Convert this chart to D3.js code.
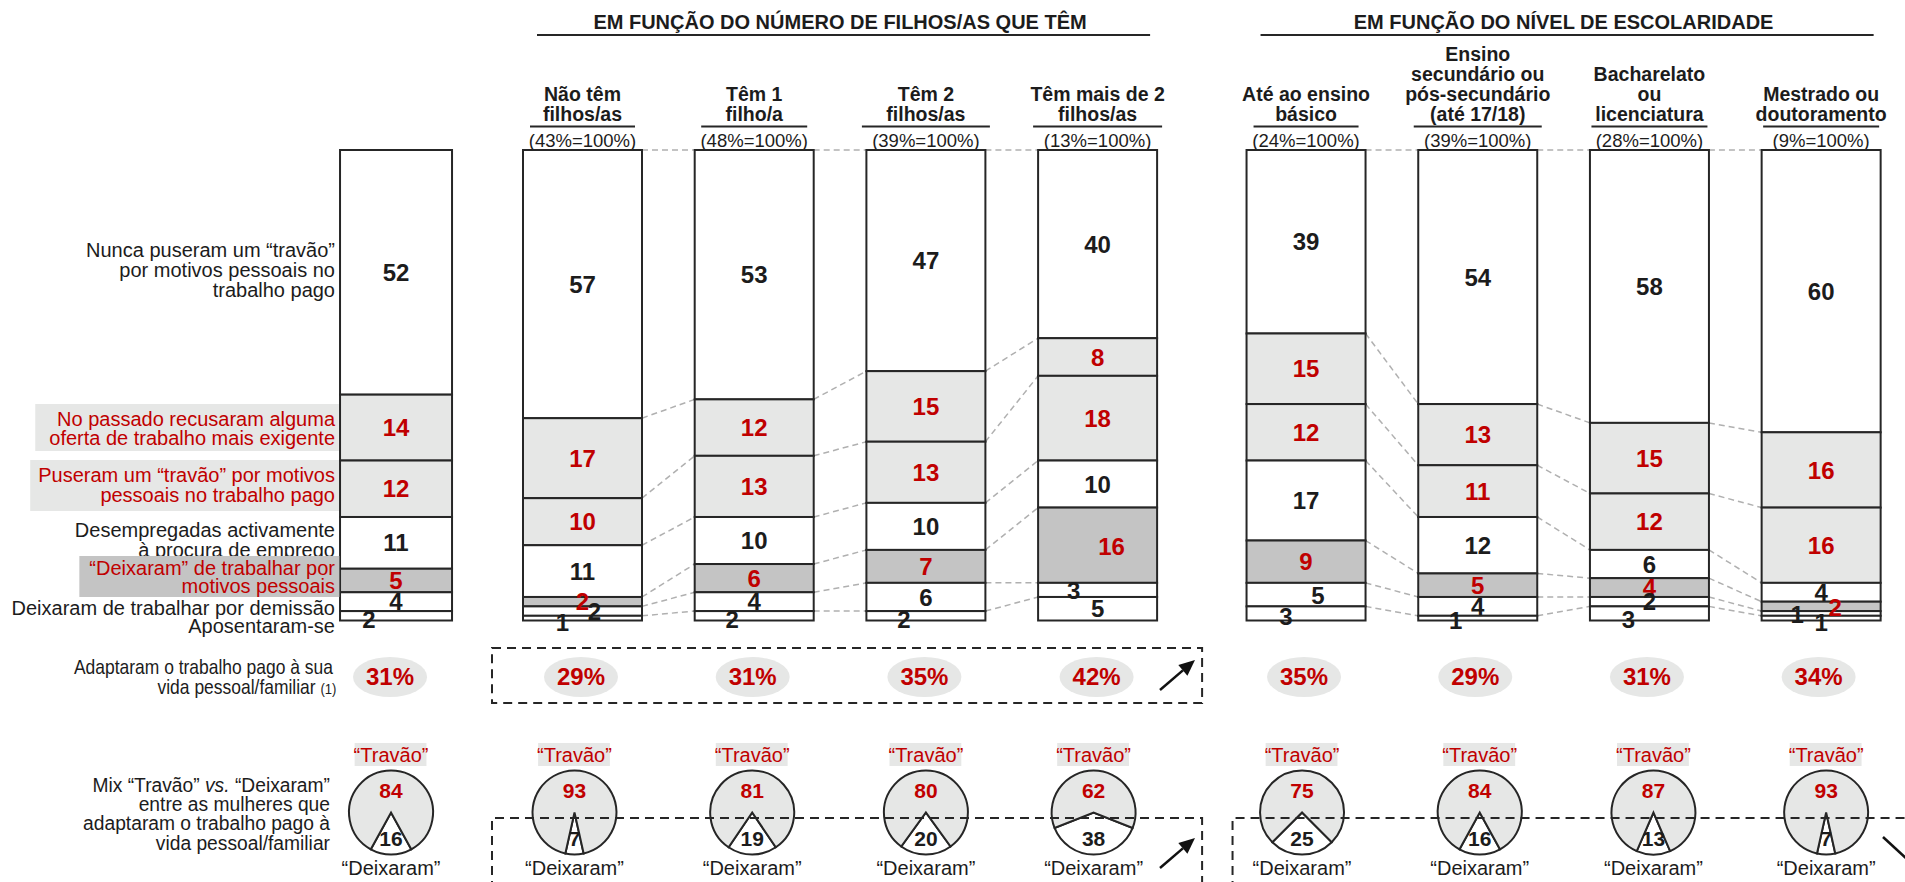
<!DOCTYPE html>
<html><head><meta charset="utf-8">
<script src="https://cdn.jsdelivr.net/npm/d3@7"></script>
<style>
body{margin:0;background:#fff;}
svg{display:block;}
text{font-family:"Liberation Sans", Arial, Helvetica, sans-serif;}
</style>
</head><body>
<svg id="chart" width="1905" height="882"></svg>
<script>
// ---------------- DATA ----------------
const categories = ["Total","Não têm filhos/as","Têm 1 filho/a","Têm 2 filhos/as","Têm mais de 2 filhos/as",
  "Até ao ensino básico","Ensino secundário ou pós-secundário (até 17/18)","Bacharelato ou licenciatura","Mestrado ou doutoramento"];
const headerLines = [[],["Não têm","filhos/as"],["Têm 1","filho/a"],["Têm 2","filhos/as"],["Têm mais de 2","filhos/as"],
  ["Até ao ensino","básico"],["Ensino","secundário ou","pós-secundário","(até 17/18)"],["Bacharelato","ou","licenciatura"],["Mestrado ou","doutoramento"]];
const baseLabels = ["","(43%=100%)","(48%=100%)","(39%=100%)","(13%=100%)","(24%=100%)","(39%=100%)","(28%=100%)","(9%=100%)"];
const sectionTitles = ["EM FUNÇÃO DO NÚMERO DE FILHOS/AS QUE TÊM","EM FUNÇÃO DO NÍVEL DE ESCOLARIDADE"];
const sectionCols = [[1,2,3,4],[5,6,7,8]];

const segmentKeys = ["nunca","recusaram","travao","desempregadas","deixaram","demissao","aposentaram"];
const segmentLabels = [
  ["Nunca puseram um “travão”","por motivos pessoais no","trabalho pago"],
  ["No passado recusaram alguma","oferta de trabalho mais exigente"],
  ["Puseram um “travão” por motivos","pessoais no trabalho pago"],
  ["Desempregadas activamente","à procura de emprego"],
  ["“Deixaram” de trabalhar por","motivos pessoais"],
  ["Deixaram de trabalhar por demissão"],
  ["Aposentaram-se"]];
const nunca         = [52,57,53,47,40,39,54,58,60];
const recusaram     = [14,17,12,15, 8,15,13,15,16];
const travao        = [12,10,13,13,18,12,11,12,16];
const desempregadas = [11,11,10,10,10,17,12, 6, 4];
const deixaram      = [ 5, 2, 6, 7,16, 9, 5, 4, 2];
const demissao      = [ 4, 2, 4, 6, 3, 5, 4, 2, 1];
const aposentaram   = [ 2, 1, 2, 2, 5, 3, 1, 3, 1];

const adaptaram     = [31,29,31,35,42,35,29,31,34];
const mixTravao     = [84,93,81,80,62,75,84,87,93];
const mixDeixaram   = [16, 7,19,20,38,25,16,13, 7];

// ---------------- LAYOUT / STYLE ----------------
const RED="#c00000", INK="#1c1c1c", LIGHT="#e6e7e6", DARK="#c4c4c4", LINE="#262626", DASHGREY="#b0b0b0";
const segFill  = ["#ffffff",LIGHT,LIGHT,"#ffffff",DARK,"#ffffff","#ffffff"];
const segColor = [INK,RED,RED,INK,RED,INK,INK];
const slot = [-1.086,0,1,2,3,4.214,5.214,6.214,7.214];
const barW = [112,119,119,119,119,119,119,119,119];
const underlineW = [0,105,106,128,129,105,128,116,116];
const pieDx = [-5,-8,-2,0,-4,-4,2,4,5];
const ellDx = [-6,-1.5,-1.5,-1.5,-1,-2,-2.5,-2.5,-2.5];
// label nudges: "col-seg": [dx,dy]
const nudge = {"0-6":[-27,4],"1-5":[12,0],"1-6":[-20,4],"2-6":[-22,4],"3-6":[-22,4],
  "4-4":[14,1],"4-5":[-24,0],"5-5":[12,1],"5-6":[-20,3],"6-6":[-22,2],"7-6":[-21,6],
  "8-4":[14,1],"8-5":[-24,1],"8-6":[0,4]};
const rowLayout = [
  {y:257,lh:20},{y:426,lh:19,bg:LIGHT,pad:[14,4,3,2]},{y:482,lh:20,bg:LIGHT,pad:[8,4,4,5]},
  {y:537,lh:20},{y:575,lh:18,bg:DARK,pad:[10,1,4,0]},{y:615,lh:20},{y:633,lh:20}];
const LABEL_X = 335;

// ---------------- SCALES ----------------
const x = d3.scaleLinear().domain([0,1]).range([582.5,754.2]);
const y = d3.scaleLinear().domain([0,100]).range([150,620.5]);
const cx = i => x(slot[i]);
const left = i => cx(i) - barW[i]/2;
const right = i => cx(i) + barW[i]/2;

const rows = categories.map((c,i)=>({cat:c,nunca:nunca[i],recusaram:recusaram[i],travao:travao[i],
  desempregadas:desempregadas[i],deixaram:deixaram[i],demissao:demissao[i],aposentaram:aposentaram[i]}));
const series = d3.stack().keys(segmentKeys)(rows);

const svg = d3.select("#chart");

// ---------------- SECTION TITLES ----------------
sectionCols.forEach((cols,s)=>{
  const c0=cols[0], c1=cols[cols.length-1];
  const mid = d3.mean(cols, cx);
  svg.append("text").attr("x",mid).attr("y",29).attr("text-anchor","middle")
    .attr("font-size",20).attr("font-weight","bold").attr("fill",INK).text(sectionTitles[s]);
  svg.append("line").attr("x1",left(c0)+14).attr("x2",right(c1)-7).attr("y1",35).attr("y2",35)
    .attr("stroke",LINE).attr("stroke-width",2);
});

// ---------------- COLUMN HEADERS ----------------
categories.forEach((c,i)=>{
  const lines = headerLines[i];
  if(!lines.length) return;
  const n = lines.length;
  lines.forEach((t,k)=>{
    svg.append("text").attr("x",cx(i)).attr("y",121-(n-1-k)*20).attr("text-anchor","middle")
      .attr("font-size",19.5).attr("font-weight","bold").attr("fill",INK).text(t);
  });
  svg.append("line").attr("x1",cx(i)-underlineW[i]/2).attr("x2",cx(i)+underlineW[i]/2)
    .attr("y1",126.5).attr("y2",126.5).attr("stroke",LINE).attr("stroke-width",2);
  svg.append("text").attr("x",cx(i)).attr("y",147).attr("text-anchor","middle")
    .attr("font-size",18.5).attr("fill",INK).text(baseLabels[i]);
});

// ---------------- CONNECTORS ----------------
const conn = svg.append("g");
sectionCols.forEach(cols=>{
  for(let p=0;p<cols.length-1;p++){
    const a=cols[p], b=cols[p+1];
    series.forEach((s,k)=>{
      conn.append("line").attr("x1",right(a)).attr("y1",y(s[a][0])).attr("x2",left(b)).attr("y2",y(s[b][0]))
        .attr("stroke",DASHGREY).attr("stroke-width",1.5).attr("stroke-dasharray","6,4");
    });
  }
});

// ---------------- BARS ----------------
const bars = svg.append("g");
series.forEach((s,k)=>{
  bars.selectAll(null).data(s).enter().append("rect")
    .attr("x",(d,i)=>left(i)).attr("width",(d,i)=>barW[i])
    .attr("y",d=>y(d[0])).attr("height",d=>y(d[1])-y(d[0]))
    .attr("fill",segFill[k]).attr("stroke",LINE).attr("stroke-width",2);
});
series.forEach((s,k)=>{
  bars.selectAll(null).data(s).enter().append("text")
    .attr("x",(d,i)=>cx(i)+((nudge[i+"-"+k]||[0,0])[0]))
    .attr("y",(d,i)=>(y(d[0])+y(d[1]))/2+8.6+((nudge[i+"-"+k]||[0,0])[1]))
    .attr("text-anchor","middle").attr("font-size",24).attr("font-weight","bold")
    .attr("fill",segColor[k]).text(d=>d[1]-d[0]);
});

// ---------------- ROW LABELS ----------------
segmentLabels.forEach((lines,k)=>{
  const L=rowLayout[k];
  const g=svg.append("g");
  const t=g.append("text").attr("font-size",20).attr("fill",segColor[k]).attr("text-anchor","end");
  lines.forEach((ln,j)=>t.append("tspan").attr("x",LABEL_X).attr("y",L.y+j*L.lh).text(ln));
  if(L.bg){
    const bb=t.node().getBBox();
    g.insert("rect","text").attr("x",bb.x-L.pad[0]).attr("y",bb.y-L.pad[1])
      .attr("width",bb.width+L.pad[0]+L.pad[2]).attr("height",bb.height+L.pad[1]+L.pad[3]).attr("fill",L.bg);
  }
});

// Adaptaram label (narrower type in the original)
const AX = 333;
const ad = svg.append("text").attr("font-size",20).attr("fill",INK).attr("text-anchor","end")
  .attr("transform",`translate(${AX},0) scale(0.873,1) translate(${-AX},0)`);
ad.append("tspan").attr("x",AX).attr("y",674).text("Adaptaram o trabalho pago à sua");
const ad2 = ad.append("tspan").attr("x",AX+4).attr("y",694);
ad2.append("tspan").text("vida pessoal/familiar ");
ad2.append("tspan").attr("font-size",15).text("(1)");

// Mix label
const MX = 330;
const mx = svg.append("text").attr("font-size",20).attr("fill",INK).attr("text-anchor","end")
  .attr("transform",`translate(${MX},0) scale(0.962,1) translate(${-MX},0)`);
const m1 = mx.append("tspan").attr("x",MX).attr("y",792);
m1.append("tspan").text("Mix “Travão” ");
m1.append("tspan").attr("font-style","italic").text("vs.");
m1.append("tspan").text(" “Deixaram”");
["entre as mulheres que","adaptaram o trabalho pago à","vida pessoal/familiar"].forEach((t,j)=>
  mx.append("tspan").attr("x",MX).attr("y",811+j*19.5).text(t));

// ---------------- ELLIPSES (Adaptaram) ----------------
const eg = svg.append("g");
adaptaram.forEach((v,i)=>{
  const ex = cx(i)+ellDx[i];
  eg.append("ellipse").attr("cx",ex).attr("cy",677).attr("rx",37).attr("ry",20).attr("fill",LIGHT);
  eg.append("text").attr("x",ex).attr("y",685).attr("text-anchor","middle").attr("font-size",24)
    .attr("font-weight","bold").attr("fill",RED).text(v+"%");
});

// ---------------- PIES ----------------
const R=42, PCY=812.5;
const arc = d3.arc().innerRadius(0).outerRadius(R);
const pg = svg.append("g");
mixTravao.forEach((tv,i)=>{
  const px = cx(i)+pieDx[i];
  const a = 2*Math.PI*mixDeixaram[i]/(mixDeixaram[i]+tv);
  const pie = d3.pie().sort(null).value(d=>d.v).startAngle(Math.PI-a/2).endAngle(Math.PI-a/2+2*Math.PI);
  const arcs = pie([{k:"d",v:mixDeixaram[i]},{k:"t",v:tv}]);
  const g = pg.append("g").attr("transform",`translate(${px},${PCY})`);
  g.selectAll("path").data(arcs).enter().append("path").attr("d",arc)
    .attr("fill",d=>d.data.k==="t"?LIGHT:"#ffffff").attr("stroke",LINE).attr("stroke-width",2)
    .attr("stroke-linejoin","miter");
  g.append("text").attr("y",-14.5).attr("text-anchor","middle").attr("font-size",21).attr("font-weight","bold")
    .attr("fill",RED).text(tv);
  g.append("text").attr("y",33.5).attr("text-anchor","middle").attr("font-size",21).attr("font-weight","bold")
    .attr("fill",INK).text(mixDeixaram[i]);
  // Travão label
  const tl = pg.append("g");
  const tt = tl.append("text").attr("x",px).attr("y",762).attr("text-anchor","middle").attr("font-size",20)
    .attr("fill",RED).text("“Travão”");
  const bb = tt.node().getBBox();
  tl.insert("rect","text").attr("x",bb.x+1).attr("y",bb.y-1).attr("width",bb.width-3).attr("height",bb.height+1).attr("fill",LIGHT);
  pg.append("text").attr("x",px).attr("y",875).attr("text-anchor","middle").attr("font-size",20)
    .attr("fill",INK).text("“Deixaram”");
});

// ---------------- DASHED BOXES & ARROWS ----------------
const dash = svg.append("g").attr("fill","none").attr("stroke",LINE).attr("stroke-width",2).attr("stroke-dasharray","9,6");
const g1L = left(1)-31, g1R = right(4)+45, g2L = left(5)-14;
dash.append("rect").attr("x",g1L).attr("y",648).attr("width",g1R-g1L).attr("height",55);
dash.append("path").attr("d",`M${g1L},890V818H${g1R}V890`);
dash.append("path").attr("d",`M${g2L},890V818H1915`);

function arrow(x1,y1,x2,y2){
  const ang=Math.atan2(y2-y1,x2-x1), L=16, Wd=7;
  const bx=x2-L*Math.cos(ang), by=y2-L*Math.sin(ang);
  svg.append("line").attr("x1",x1).attr("y1",y1).attr("x2",bx).attr("y2",by).attr("stroke","#111").attr("stroke-width",2.5);
  svg.append("path").attr("d",`M${x2},${y2}L${bx+Wd*Math.sin(ang)},${by-Wd*Math.cos(ang)}L${bx-Wd*Math.sin(ang)},${by+Wd*Math.cos(ang)}Z`).attr("fill","#111");
}
arrow(1160,690,1195,660);
arrow(1160,868,1195,838);
arrow(1883,837,1922,873);
</script>
</body></html>
